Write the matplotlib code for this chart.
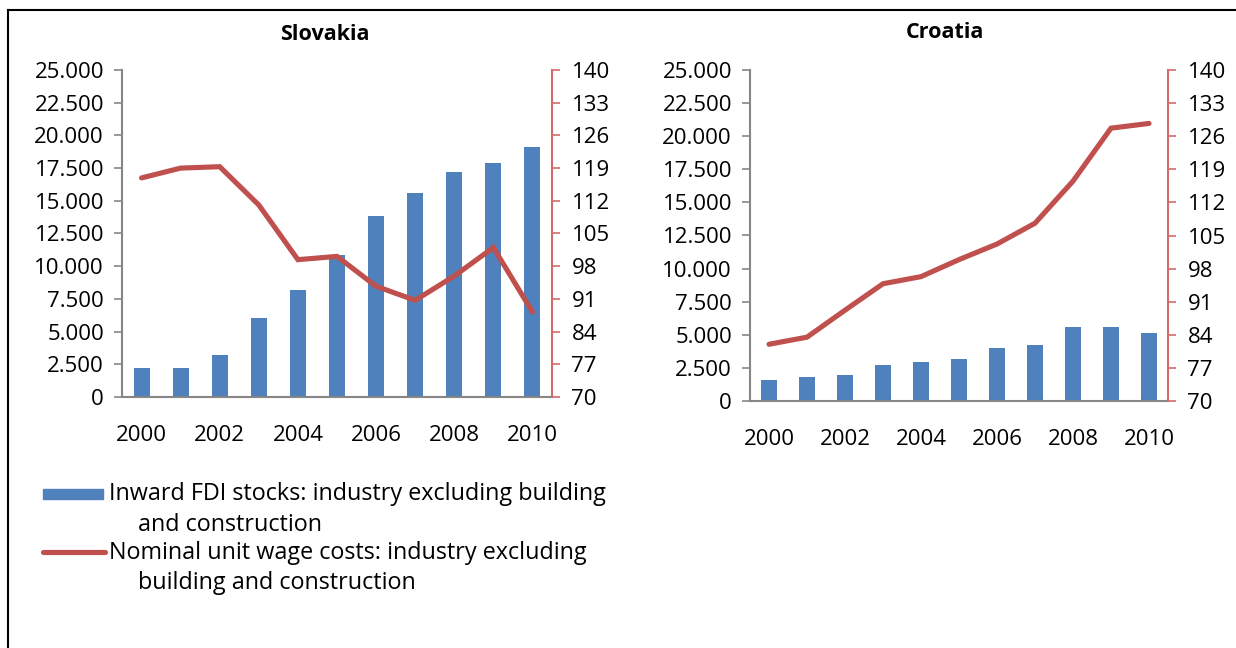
import matplotlib.pyplot as plt
from matplotlib.lines import Line2D
from matplotlib.patches import Rectangle

plt.rcParams['font.family'] = ['Open Sans', 'DejaVu Sans']

years = list(range(2000, 2011))
year_labels = [str(y) if y % 2 == 0 else '' for y in years]

# Slovakia
svk_fdi = [2245, 2245, 3240, 6020, 8163, 10893, 13827, 15587, 17194, 17857, 19107]
svk_ulc = [116.9, 119.0, 119.3, 111.1, 99.4, 100.1, 93.7, 90.7, 95.9, 102.0, 88.2]
# Croatia
hrv_fdi = [1610, 1786, 1937, 2741, 2918, 3194, 3974, 4225, 5558, 5609, 5106]
hrv_ulc = [82.0, 83.5, 89.2, 94.8, 96.3, 99.9, 103.2, 107.6, 116.5, 127.7, 128.7]

left_ticks = list(range(0, 25001, 2500))
right_ticks = list(range(70, 141, 7))

bar_col = '#4F81BD'
line_col = '#C0504D'
axis_gray = '#868686'
fs = 16
fs_leg = 16.8

fig = plt.figure(figsize=(12.36, 6.48), dpi=100)


def fmt_thousands(v):
    return f'{v:,}'.replace(',', '.')


def panel(rect, fdi, ulc):
    ax = fig.add_axes(rect)
    x = list(range(len(years)))
    ax.bar(x, fdi, width=0.41, color=bar_col, zorder=2)
    ax.set_xlim(-0.5, len(years) - 0.5)
    ax.set_ylim(0, 25000)
    ax.set_yticks(left_ticks)
    ax.set_yticklabels([fmt_thousands(v) for v in left_ticks], fontsize=fs)
    ax.set_xticks(x)
    ax.set_xticklabels(year_labels, fontsize=fs)
    ax.tick_params(axis='x', length=0, pad=20)
    ax.tick_params(axis='y', length=6, width=1.2, color=axis_gray, direction='out', pad=7)
    for s in ['top', 'right']:
        ax.spines[s].set_visible(False)
    for s in ['left', 'bottom']:
        ax.spines[s].set_color(axis_gray)
        ax.spines[s].set_linewidth(1.5)

    ax2 = ax.twinx()
    ax2.plot(x, ulc, color=line_col, lw=3.7, solid_capstyle='round', solid_joinstyle='miter', zorder=3)
    ax2.set_ylim(70, 140)
    ax2.set_yticks(right_ticks)
    ax2.set_yticklabels([str(v) for v in right_ticks], fontsize=fs)
    ax2.tick_params(axis='y', length=6, width=1.2, color='#D46A6A', direction='out', pad=8)
    for s in ['top', 'left', 'bottom']:
        ax2.spines[s].set_visible(False)
    ax2.spines['right'].set_color('#D46A6A')
    ax2.spines['right'].set_linewidth(1.5)
    return ax, ax2


W, H = 1236, 648


def frac_rect(x0, x1, ytop, ybot):
    return [x0 / W, 1 - ybot / H, (x1 - x0) / W, (ybot - ytop) / H]


panel(frac_rect(122, 552, 70, 397), svk_fdi, svk_ulc)
panel(frac_rect(750, 1168, 70, 401), hrv_fdi, hrv_ulc)

fig.text(325 / W, 1 - 34 / H, 'Slovakia', ha='center', va='center', fontsize=15.5, fontweight='bold')
fig.text(945 / W, 1 - 33 / H, 'Croatia', ha='center', va='center', fontsize=15.5, fontweight='bold')

# legend
fig.add_artist(Rectangle((43 / W, 1 - 499 / H), 60 / W, 10 / H, color=bar_col, transform=fig.transFigure))
fig.text(109 / W, 1 - 494 / H, 'Inward FDI stocks: industry excluding building', fontsize=fs_leg, va='center')
fig.text(138 / W, 1 - 525 / H, 'and construction', fontsize=fs_leg, va='center')
fig.add_artist(Line2D([43 / W, 105 / W], [1 - 552 / H, 1 - 552 / H], color=line_col, lw=3.7,
                      solid_capstyle='round', transform=fig.transFigure))
fig.text(109 / W, 1 - 553 / H, 'Nominal unit wage costs: industry excluding', fontsize=fs_leg, va='center')
fig.text(138 / W, 1 - 583 / H, 'building and construction', fontsize=fs_leg, va='center')

# outer frame
fig.add_artist(Line2D([8 / W, 1], [1 - 10 / H, 1 - 10 / H], color='black', lw=1.5, transform=fig.transFigure))
fig.add_artist(Line2D([8 / W, 8 / W], [0, 1 - 10 / H], color='black', lw=1.5, transform=fig.transFigure))

fig.savefig('out.png', dpi=100)
